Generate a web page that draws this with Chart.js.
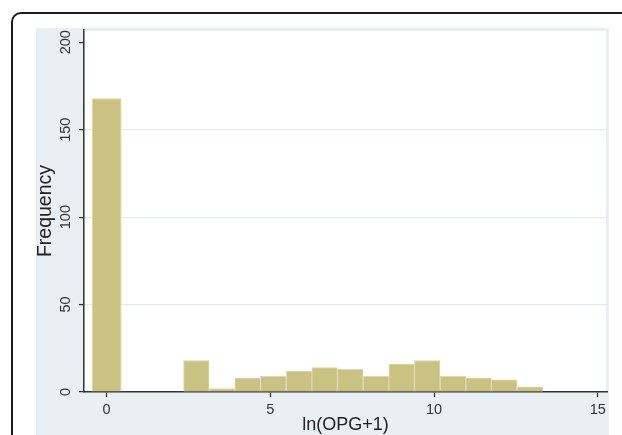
<!DOCTYPE html>
<html>
<head>
<meta charset="utf-8">
<script src="https://cdn.jsdelivr.net/npm/chart.js@4"></script>
<style>
  html, body { margin: 0; padding: 0; background: #fff; overflow: hidden; width: 622px; height: 435px; }
  #marco {
    position: absolute; left: 11px; top: 12px; width: 700px; height: 500px;
    border: 2px solid #1c1c1c; border-radius: 10px; background: #fff;
  }
  #fondo {
    position: absolute; left: 36px; top: 28px; width: 573px; height: 407px;
    background: #e9f0f3;
  }
</style>
</head>
<body>
<div id="marco"></div>
<div id="fondo"><canvas id="grafico" width="573" height="407"></canvas></div>
<script>
// centros de cada barra del histograma (ln(OPG+1)) y sus frecuencias
const binX = [0, 2.74, 3.53, 4.31, 5.09, 5.88, 6.66, 7.44, 8.23, 9.01, 9.79, 10.58, 11.36, 12.14, 12.93];
const frecuencias = [168, 18, 2, 8, 9, 12, 14, 13, 9, 16, 18, 9, 8, 7, 3];

const ticksX = [0, 5, 10, 15];
const ticksY = [0, 50, 100, 150, 200];

const tituloX = 'ln(OPG+1)';
const tituloY = 'Frequency';

const colorBarra = '#c9c282';
const bordeBarra = '#ddd8ab';
const colorEje = '#333333';
const colorGrid = '#e4ecef';
const fuente = '"Liberation Sans", Arial, sans-serif';

const puntos = binX.map((x, i) => ({ x, y: frecuencias[i] }));

// fondo blanco del area de trazado
const fondoPlot = {
  id: 'fondoPlot',
  beforeDraw: (chart) => {
    const { ctx, chartArea } = chart;
    ctx.save();
    ctx.fillStyle = '#ffffff';
    ctx.fillRect(chartArea.left, chartArea.top, chartArea.right - chartArea.left, chartArea.bottom - chartArea.top);
    ctx.strokeStyle = colorGrid;
    ctx.lineWidth = 1.5;
    ctx.strokeRect(chartArea.left, chartArea.top, chartArea.right - chartArea.left, chartArea.bottom - chartArea.top);
    ctx.restore();
  }
};

// sin margenes extra por las etiquetas
const sinPadding = (scale) => {
  scale.paddingTop = 0;
  scale.paddingBottom = 0;
  scale.paddingLeft = 0;
  scale.paddingRight = 0;
};

const ctx = document.getElementById('grafico').getContext('2d');

const myChart = new Chart(ctx, {
  type: 'bar',
  data: {
    datasets: [
      {
        // barra del cero, algo mas ancha
        data: puntos.slice(0, 1),
        backgroundColor: colorBarra,
        borderColor: bordeBarra,
        borderWidth: 1,
        grouped: false,
        categoryPercentage: 1,
        barPercentage: 1.176
      },
      {
        data: puntos.slice(1),
        backgroundColor: colorBarra,
        borderColor: bordeBarra,
        borderWidth: 1,
        grouped: false,
        categoryPercentage: 1,
        barPercentage: 1
      }
    ]
  },
  options: {
    responsive: false,
    animation: false,
    layout: { padding: { top: 2, right: 2, left: 0, bottom: 0 } },
    plugins: {
      legend: { display: false },
      tooltip: { enabled: false }
    },
    scales: {
      x: {
        type: 'linear',
        min: -0.69,
        max: 15.28,
        offset: false,
        afterBuildTicks: (scale) => { scale.ticks = ticksX.map(v => ({ value: v })); },
        afterFit: (scale) => { scale.height = 43; sinPadding(scale); },
        grid: {
          offset: false,
          drawOnChartArea: false,
          tickLength: 5,
          tickColor: colorEje,
          tickWidth: 1.3
        },
        border: { color: colorEje, width: 1.5 },
        ticks: {
          autoSkip: false,
          maxRotation: 0,
          padding: 4,
          color: colorEje,
          font: { family: fuente, size: 14.5 }
        },
        title: {
          display: true,
          text: tituloX,
          color: '#222',
          padding: { top: 0, bottom: 0 },
          font: { family: fuente, size: 18, lineHeight: 1.15 }
        }
      },
      y: {
        min: 0,
        max: 207,
        afterBuildTicks: (scale) => { scale.ticks = ticksY.map(v => ({ value: v })); },
        afterFit: (scale) => { scale.width = 48; sinPadding(scale); },
        grid: {
          color: (c) => (c.tick && c.tick.value > 0 && c.tick.value < 200) ? colorGrid : 'rgba(0,0,0,0)',
          lineWidth: 1.2,
          tickLength: 5,
          tickColor: colorEje,
          tickWidth: 1.3
        },
        border: { color: colorEje, width: 1.5 },
        ticks: {
          autoSkip: false,
          minRotation: 90,
          maxRotation: 90,
          crossAlign: 'center',
          padding: 1,
          color: colorEje,
          font: { family: fuente, size: 14.5 }
        },
        title: {
          display: true,
          text: tituloY,
          color: '#222',
          padding: { top: 0, bottom: 0 },
          font: { family: fuente, size: 19.5, lineHeight: 1 }
        }
      }
    }
  },
  plugins: [fondoPlot]
});
</script>
</body>
</html>
